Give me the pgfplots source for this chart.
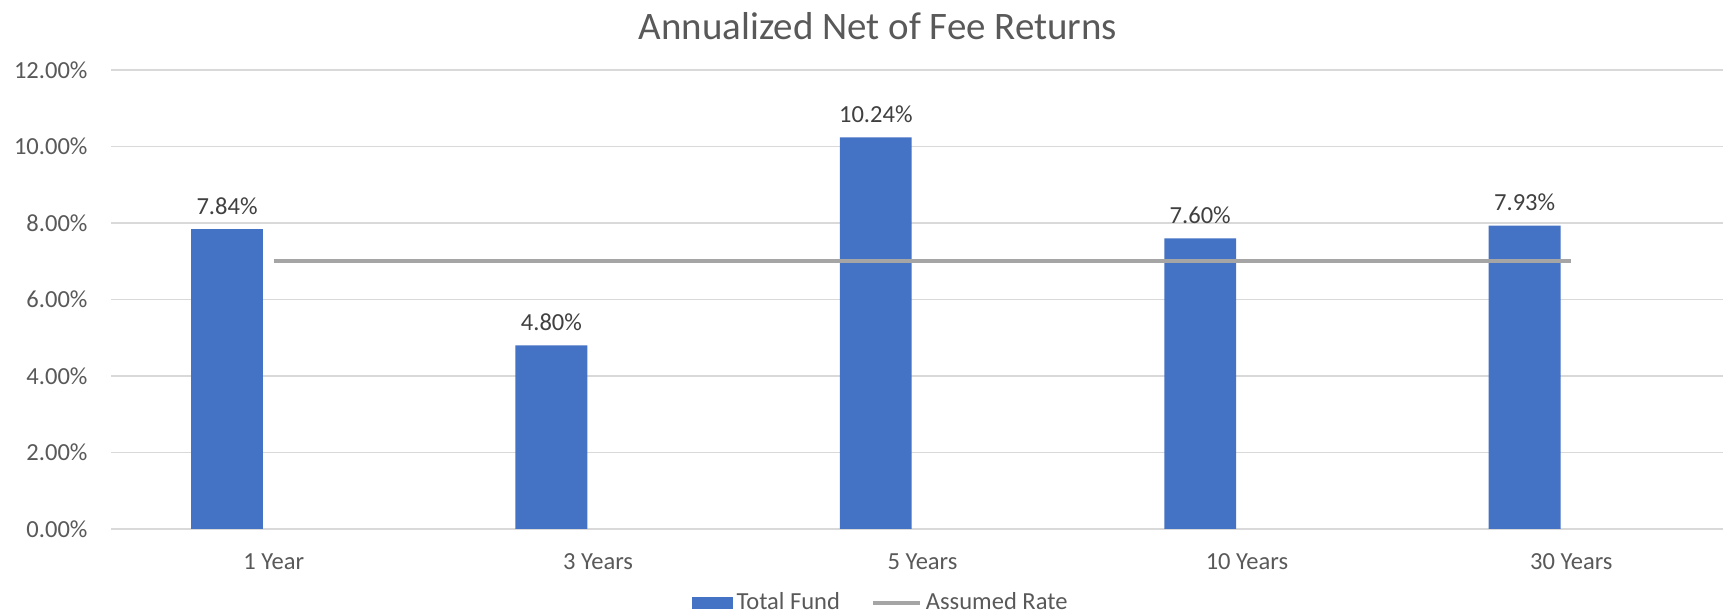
\documentclass[border=0pt]{standalone}
\usepackage{fontspec}
\setmainfont{Carlito}
\usepackage{pgfplots}
\pgfplotsset{compat=1.18}
\definecolor{barblue}{RGB}{68,114,196}
\definecolor{linegray}{RGB}{165,165,165}
\definecolor{gridgray}{RGB}{217,217,217}
\definecolor{ticktext}{RGB}{89,89,89}
\definecolor{labeltext}{RGB}{64,64,64}
\begin{document}
\begin{tikzpicture}
\begin{axis}[
  at={(41.8125pt,31.125pt)}, anchor=south west,
  scale only axis, width=604.3125pt, height=172.125pt,
  xmin=-0.5, xmax=4.4676, ymin=0, ymax=12,
  axis line style={draw=none},
  ymajorgrids, grid style={gridgray, line width=0.6pt},
  ytick={0,2,...,12},
  yticklabels={0.00\%,2.00\%,4.00\%,6.00\%,8.00\%,10.00\%,12.00\%},
  xtick={0,1,2,3,4},
  xticklabels={1 Year,3 Years,5 Years,10 Years,30 Years},
  major tick length=0pt,
  tick label style={font=\fontsize{9.2pt}{11pt}\selectfont, text=ticktext},
  yticklabel style={anchor=east, inner sep=0pt, xshift=-8.8pt},
  xticklabel style={anchor=north, inner sep=0pt, yshift=-9pt},
  /pgf/number format/assume math mode=true,
  legend columns=2,
  legend style={at={(0.4778,-0.161)}, anchor=center, draw=none, fill=none,
    font=\fontsize{9.2pt}{11pt}\selectfont, text=ticktext, inner sep=0pt,
    /tikz/every even column/.append style={column sep=10pt},
    nodes={inner sep=1.5pt}},
  clip=false,
]
\addplot[ybar, bar width=0.2215, bar shift=-0.144, fill=barblue, draw=none,
  nodes near coords={\pgfmathprintnumber[fixed,fixed zerofill,precision=2]{\pgfplotspointmeta}\%},
  nodes near coords style={anchor=base, inner sep=0pt, yshift=5.6pt, xshift=-17.5pt,
    font=\fontsize{9.2pt}{11pt}\selectfont, text=labeltext},
  legend image code/.code={\fill[barblue] (0pt,-2.25pt) rectangle (15.4pt,2.25pt);}]
  coordinates {(0,7.84) (1,4.80) (2,10.24) (3,7.60) (4,7.93)};
\addlegendentry{Total Fund}
\addplot[linegray, line width=1.6pt, mark=none,
  legend image code/.code={\draw[linegray, line width=1.6pt] (0pt,0pt) -- (17.6pt,0pt);}]
  coordinates {(0,7) (1,7) (2,7) (3,7) (4,7)};
\addlegendentry{Assumed Rate}
\end{axis}
\node[anchor=base, font=\fontsize{14.6pt}{17pt}\selectfont, text=ticktext] at (329.25pt,214.5pt) {Annualized Net of Fee Returns};
\pgfresetboundingbox
\useasboundingbox (0,0) rectangle (646.125pt,229.5pt);
\end{tikzpicture}
\end{document}
